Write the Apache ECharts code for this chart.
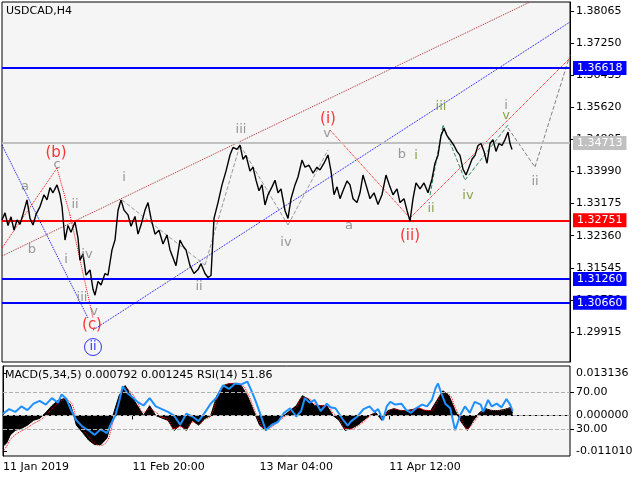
<!DOCTYPE html><html><head><meta charset="utf-8">
<script src="https://cdn.jsdelivr.net/npm/echarts@6/dist/echarts.min.js"></script>
<style>html,body{margin:0;background:#fff}#c{width:640px;height:480px}</style></head><body><div id="c"></div>
<script>
const priceTicks=[1.38065,1.37250,1.36435,1.35620,1.34805,1.33990,1.33175,1.32360,1.31545,1.30730,1.29915];
const price=[[2,1.3276],[5,1.3294],[8,1.3262],[11,1.3284],[14,1.3250],[17,1.3276],[20,1.3265],[23,1.3290],[27,1.3327],[30,1.3280],[33,1.3263],[36,1.3290],[40,1.3310],[44,1.3340],[47,1.3327],[50,1.3358],[53,1.3345],[57,1.3365],[60,1.3340],[62,1.3310],[65,1.3225],[68,1.3262],[71,1.3245],[75,1.3271],[78,1.3230],[80,1.3174],[83,1.3190],[86,1.3136],[90,1.3149],[93,1.3100],[95,1.3085],[98,1.3120],[101,1.3111],[105,1.3140],[108,1.3136],[112,1.3200],[115,1.3225],[118,1.3300],[121,1.3327],[124,1.3301],[128,1.3289],[131,1.3260],[135,1.3285],[138,1.3240],[141,1.3263],[145,1.3301],[148,1.3320],[151,1.3280],[155,1.3240],[159,1.3250],[163,1.3215],[167,1.3238],[170,1.3200],[173,1.3180],[176,1.3160],[180,1.3225],[183,1.3210],[186,1.3200],[190,1.3160],[194,1.3140],[198,1.3150],[201,1.3165],[205,1.3140],[208,1.3130],[211,1.3135],[214,1.3280],[218,1.3320],[222,1.3365],[226,1.3400],[230,1.3441],[233,1.3460],[237,1.3455],[240,1.3466],[243,1.3430],[246,1.3440],[250,1.3400],[253,1.3410],[256,1.3377],[259,1.3350],[262,1.3365],[265,1.3314],[268,1.3340],[272,1.3360],[275,1.3377],[278,1.3345],[281,1.3355],[285,1.3300],[288,1.3280],[291,1.3330],[295,1.3365],[298,1.3385],[302,1.3428],[305,1.3410],[309,1.3415],[313,1.3395],[317,1.3410],[320,1.3403],[324,1.3420],[328,1.3441],[331,1.3400],[334,1.3340],[337,1.3360],[340,1.3330],[343,1.3350],[347,1.3375],[350,1.3365],[353,1.3330],[357,1.3320],[360,1.3345],[363,1.3390],[366,1.3365],[370,1.3330],[374,1.3345],[378,1.3315],[382,1.3340],[386,1.3390],[390,1.3360],[393,1.3340],[397,1.3355],[400,1.3320],[404,1.3330],[407,1.3300],[410,1.3273],[413,1.3330],[416,1.3370],[420,1.3355],[424,1.3370],[428,1.3345],[432,1.3380],[435,1.3420],[438,1.3440],[441,1.3490],[444,1.3509],[447,1.3490],[450,1.3480],[454,1.3465],[457,1.3450],[460,1.3440],[463,1.3405],[466,1.3390],[469,1.3410],[472,1.3430],[475,1.3440],[478,1.3465],[481,1.3470],[484,1.3450],[487,1.3420],[490,1.3470],[493,1.3480],[496,1.3450],[499,1.3470],[502,1.3465],[505,1.3480],[508,1.3499],[510,1.3470],[512,1.3455]];
const histX=[0,3,6,10,15,20,25,30,35,40,45,50,55,58,60,65,70,75,80,85,88,90,95,100,105,110,115,120,125,130,135,140,145,150,155,160,165,170,175,180,185,190,195,200,205,210,215,220,225,230,235,240,245,250,255,260,265,270,275,280,285,290,295,300,305,310,315,320,325,330,335,340,345,350,355,360,365,370,375,380,385,390,395,400,405,410,415,417];
const hist=[-0.0095,-0.0085,-0.006,-0.0046,-0.004,-0.003,-0.0015,-0.0009,0.0009,0.003,0.0046,0.0052,0.0035,0,-0.003,-0.0052,-0.0076,-0.009,-0.009,-0.007,-0.003,0,0.0061,0.0092,0.0061,0.003,0,0.003,0,-0.0008,-0.0015,-0.0046,-0.003,-0.0046,-0.0015,-0.003,-0.001,0,0.0061,0.0092,0.0098,0.0098,0.0092,0.0061,0.0015,-0.003,-0.0046,-0.003,-0.0015,0,0.0015,0.003,0.0061,0.005,0.003,0.003,0.003,0,-0.0015,-0.0046,-0.004,-0.003,-0.0015,0,0.0009,-0.0015,0.0015,0.0021,0.0015,0.0015,0.0018,0.0024,0.0015,0.0015,0.0046,0.0076,0.0061,0.0015,-0.002,-0.0046,-0.0015,0.0009,0.0021,0.0015,0.0015,0.0018,0.0024,0.0008];
const signal=[-0.011,-0.0095,-0.0075,-0.006,-0.0048,-0.0038,-0.0025,-0.0015,0,0.002,0.0038,0.0048,0.0042,0.002,-0.001,-0.004,-0.0065,-0.0085,-0.0092,-0.008,-0.005,-0.002,0.004,0.0085,0.007,0.004,0.001,0.002,0.001,-0.0005,-0.0012,-0.004,-0.0035,-0.0042,-0.002,-0.0028,-0.0012,-0.0002,0.005,0.0085,0.0098,0.0099,0.0095,0.007,0.0025,-0.002,-0.0042,-0.0035,-0.002,-0.0005,0.001,0.0025,0.0055,0.0052,0.0035,0.003,0.003,0.0008,-0.001,-0.004,-0.0042,-0.0033,-0.002,-0.0003,0.0006,-0.001,0.001,0.002,0.0016,0.0015,0.0017,0.0022,0.0017,0.0015,0.004,0.007,0.0065,0.0025,-0.0012,-0.004,-0.0022,0.0003,0.0018,0.0016,0.0015,0.0017,0.0022,0.0012];
const rsiX=[0,5,10,15,20,25,30,35,40,45,48,52,55,60,65,70,75,80,85,88,92,95,98,102,105,110,115,120,125,130,135,140,145,150,155,160,165,170,175,180,185,190,195,200,204,207,211,215,220,225,230,235,240,244,247,251,255,260,265,268,272,278,282,285,290,295,300,304,307,311,314,317,321,326,330,334,338,343,347,351,354,356,358,362,366,370,374,378,382,386,391,393,397,400,404,408,412,415,417];
const rsi=[47,52,49,55,51,58,61,57,64,59,68,63,53,40,33,29,24,30,26,35,45,60,77,69,66,60,56,64,55,52,49,45,35,47,44,39,48,58,65,78,74,80,79,82,70,60,45,29,35,38,48,53,44,50,64,59,62,50,58,54,53,41,34,39,44,52,55,49,52,40,55,60,57,58,51,48,53,57,55,62,75,80,72,58,53,29,45,55,48,60,57,49,62,55,58,54,63,57,50];
const xTickVals=[0,106,210,316];
const xTickText=['11 Jan 2019','11 Feb 20:00','13 Mar 04:00','11 Apr 12:00'];
const levels=[[1.36618,'#0000ff','#0000ff'],[1.32751,'#ff0000','#ff0000'],[1.31260,'#0000ff','#0000ff'],[1.30660,'#0000ff','#0000ff'],[1.34713,'#c0c0c0','#c0c0c0']];
const waveLabels=[['a',25,187,'#808080'],['b',32,250,'#808080'],['(b)',56,153,'#ff0000'],['c',57,165,'#808080'],['ii',75,205,'#808080'],['i',66,260,'#808080'],['iv',87,255,'#808080'],['iii',82,298,'#808080'],['v',94,312,'#808080'],['(c)',92,325,'#ff0000'],['i',124,178,'#808080'],['iii',241,130,'#808080'],['ii',199,287,'#808080'],['iv',286,243,'#808080'],['v',327,134,'#808080'],['(i)',328,119,'#ff0000'],['a',349,226,'#808080'],['b',402,155,'#808080'],['i',416,156,'#6b8e23'],['(ii)',410,236,'#ff0000'],['ii',431,209,'#6b8e23'],['iii',441,107,'#6b8e23'],['iv',468,196,'#6b8e23'],['v',506,116,'#6b8e23'],['i',506,106,'#808080'],['ii',535,182,'#808080']];
const PPX=0.0002539; // pixel-read positions to price
function py(y){return +(1.38344-PPX*y).toFixed(5);}
const lines=[
 [[2,256],[530,2],'#a52a2a','dotted'],
 [[93,330],[570,22],'#0000ff','dotted'],
 [[2,145],[88,318],'#0000ff','dotted'],
 [[410,218],[570,58],'#ff0000','dotted'],
 [[330,130],[410,218],'#ff0000','dotted'],
 [[2,248],[57,168],'#ff0000','dotted'],
 [[57,168],[70,215],'#ff0000','dotted'],
 [[70,215],[93,318],'#ff0000','dotted'],
 [[508,128],[535,167],'#808080','dashed'],
 [[535,167],[570,55],'#808080','dashed'],
 [[430,195],[443,125],'#2e8b57','dashed'],
 [[443,125],[465,180],'#2e8b57','dashed'],
 [[465,180],[508,125],'#2e8b57','dashed'],
 [[122,200],[205,265],'#999','dashed'],
 [[205,265],[240,145],'#999','dashed'],
 [[240,145],[288,225],'#999','dashed'],
 [[288,225],[328,150],'#999','dashed']
];
const ch=echarts.init(document.getElementById('c'));
const F='DejaVu Sans';
ch.setOption({
 backgroundColor:'#fff',animation:false,
 textStyle:{fontFamily:F},
 grid:[{left:2,top:2,width:568,height:360,show:true,backgroundColor:'#f5f5f5',borderColor:'#000',borderWidth:1},
       {left:2,top:366,width:568,height:90,show:true,backgroundColor:'#f5f5f5',borderColor:'#000',borderWidth:1}],
 xAxis:[{gridIndex:0,type:'value',min:2,max:570,show:false},
        {gridIndex:1,type:'value',min:0,max:464,splitLine:{show:false},axisLine:{lineStyle:{color:'#000'}},
         axisTick:{customValues:xTickVals,length:4,lineStyle:{color:'#000'}},
         axisLabel:{customValues:xTickVals,formatter:v=>xTickText[xTickVals.indexOf(v)]||'',color:'#000',fontSize:11,align:'left',margin:6}}],
 yAxis:[{gridIndex:0,type:'value',position:'right',min:1.29154,max:1.38293,splitLine:{show:false},
         axisLine:{show:true,lineStyle:{color:'#000'}},axisTick:{customValues:priceTicks,length:4,lineStyle:{color:'#000'}},
         axisLabel:{customValues:priceTicks,formatter:v=>v.toFixed(5),color:'#000',fontSize:11,margin:6}},
        {gridIndex:1,type:'value',position:'right',min:-0.0125,max:0.01525,splitLine:{show:false},
         axisLine:{show:true,lineStyle:{color:'#000'}},axisTick:{customValues:[0.013136,0,-0.01101],length:4,lineStyle:{color:'#000'}},
         axisLabel:{customValues:[0.013136,0,-0.01101],formatter:v=>v.toFixed(6),color:'#000',fontSize:11,margin:6}},
        {gridIndex:1,type:'value',position:'right',min:1,max:99,show:true,splitLine:{show:false},axisLine:{show:false},
         axisTick:{customValues:[70,30],length:4,lineStyle:{color:'#000'}},
         axisLabel:{customValues:[70,30],formatter:v=>v.toFixed(2),color:'#000',fontSize:11,margin:6}}],
 graphic:[{type:'text',left:6,top:6,style:{text:'USDCAD,H4',fontSize:11,fill:'#000',fontFamily:F}},
          {type:'text',left:5,top:370,style:{text:'MACD(5,34,5) 0.000792 0.001245 RSI(14) 51.86',fontSize:11,fill:'#000',fontFamily:F}}],
 series:[
  {type:'line',xAxisIndex:0,yAxisIndex:0,data:price,symbol:'none',lineStyle:{color:'#000',width:1.4},z:5,
   markLine:{silent:true,symbol:'none',precision:5,data:levels.map(l=>({yAxis:l[0],lineStyle:{color:l[1],width:2,type:'solid'},
     label:{show:true,position:'end',distance:3,formatter:l[0].toFixed(5),color:'#fff',backgroundColor:l[2],padding:[2,4,1,4],fontSize:11,fontFamily:F}}))}},
  ...lines.map(l=>({type:'line',xAxisIndex:0,yAxisIndex:0,symbol:'none',data:[[l[0][0],py(l[0][1])],[l[1][0],py(l[1][1])]],lineStyle:{color:l[2],type:l[3],width:1},z:3})),
  {type:'scatter',xAxisIndex:0,yAxisIndex:0,symbolSize:0,z:6,
   data:waveLabels.map(w=>({value:[w[1],py(w[2])],label:{show:true,position:'inside',formatter:w[0],color:w[3],fontSize:w[0].startsWith('(')?15:13,fontFamily:F}}))},
  {type:'scatter',xAxisIndex:0,yAxisIndex:0,symbol:'circle',symbolSize:17,z:6,itemStyle:{color:'rgba(0,0,0,0)',borderColor:'#0000ff',borderWidth:1},
   data:[{value:[93,py(347)],label:{show:true,position:'inside',formatter:'ii',color:'#0000ff',fontSize:13}}]},
  {type:'line',xAxisIndex:1,yAxisIndex:1,data:histX.map((x,i)=>[x,hist[i]]),symbol:'none',lineStyle:{color:'#000',width:1},areaStyle:{color:'#000',opacity:1,origin:0},z:2},
  {type:'line',xAxisIndex:1,yAxisIndex:1,data:histX.map((x,i)=>[x,signal[i]]),symbol:'none',smooth:true,lineStyle:{color:'#ff0000',width:1,type:'dotted'},z:3,
   markLine:{silent:true,symbol:'none',label:{show:false},lineStyle:{color:'#b0b0b0',type:'dashed',width:1},data:[{yAxis:0}]}},
  {type:'line',xAxisIndex:1,yAxisIndex:2,data:rsiX.map((x,i)=>[x,rsi[i]]),symbol:'none',lineStyle:{color:'#1e90ff',width:2},z:4,
   markLine:{silent:true,symbol:'none',label:{show:false},lineStyle:{color:'#b0b0b0',type:'dashed',width:1},data:[{yAxis:70},{yAxis:30}]}}
 ]
});
</script></body></html>
